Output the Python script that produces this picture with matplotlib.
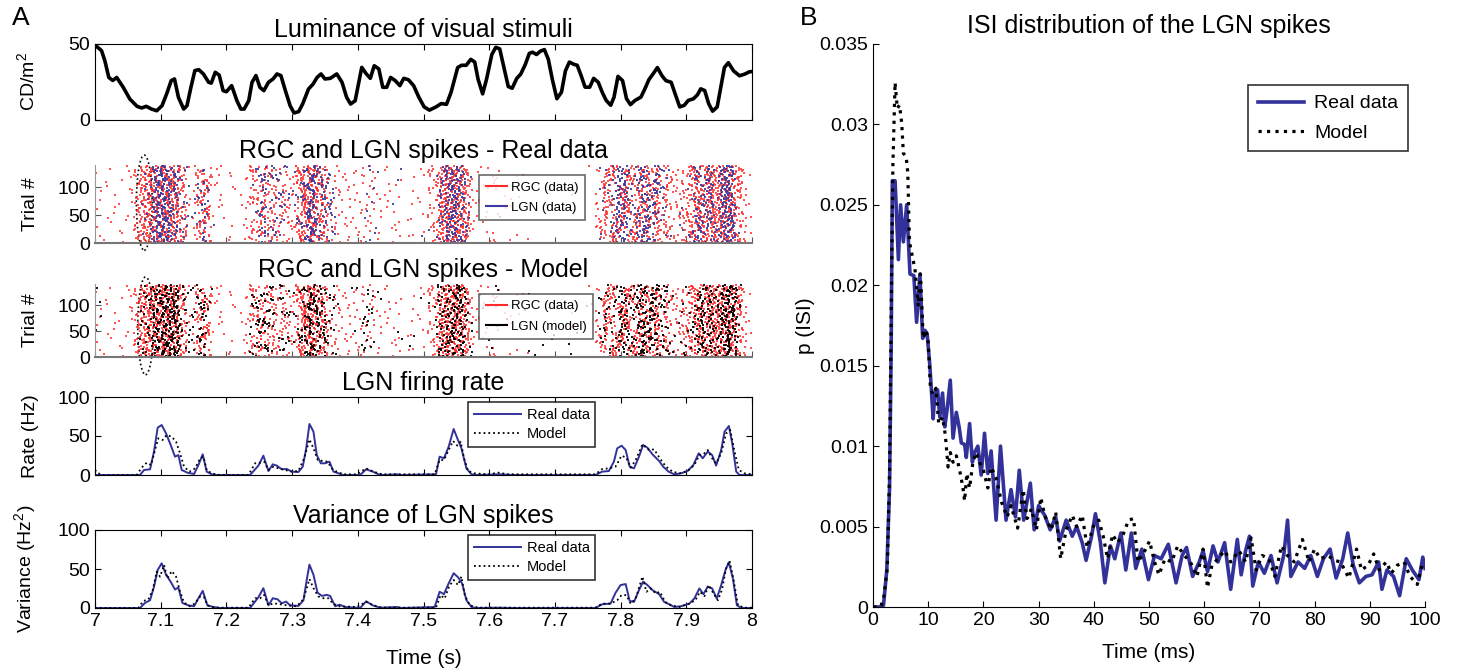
import numpy as np
import matplotlib
matplotlib.use('Agg')
import matplotlib.pyplot as plt
from matplotlib.patches import Ellipse
from matplotlib.lines import Line2D
from matplotlib.ticker import FormatStrFormatter

plt.rcParams['font.family'] = ['Liberation Sans', 'DejaVu Sans']
plt.rcParams['mathtext.fontset'] = 'custom'
plt.rcParams['mathtext.rm'] = 'Liberation Sans'
plt.rcParams['xtick.direction'] = 'in'
plt.rcParams['ytick.direction'] = 'in'

BLUE = '#32329a'
RED = '#ff2a2a'

# luminance of the stimulus, (time s, cd/m2)
lum = [(7.000, 49.3), (7.010, 45.6), (7.015, 39), (7.021, 28), (7.027, 26), (7.033, 28), (7.043, 21.5),
       (7.053, 13.8), (7.064, 9), (7.071, 7.9), (7.078, 9), (7.086, 7.2), (7.094, 6.1), (7.102, 9.4),
       (7.109, 17.1), (7.116, 25.9), (7.121, 27), (7.127, 14.9), (7.135, 7.2), (7.140, 9.4), (7.146, 21.5),
       (7.152, 32.5), (7.158, 33.1), (7.165, 30.3), (7.173, 24.8), (7.177, 24.3), (7.183, 31.4), (7.189, 29.6),
       (7.195, 19.3), (7.200, 18.6), (7.208, 22.6), (7.216, 12.7), (7.222, 7.2), (7.227, 7.2), (7.234, 12.7),
       (7.239, 24.8), (7.245, 29.2), (7.251, 21.5), (7.257, 19.3), (7.264, 24.8), (7.271, 27), (7.277, 30.3),
       (7.283, 29.2), (7.289, 20.4), (7.297, 9.4), (7.303, 4.6), (7.310, 5.5), (7.316, 10.5), (7.325, 20.4),
       (7.332, 23.7), (7.338, 28), (7.344, 30.3), (7.350, 27), (7.358, 27.4), (7.368, 30.3), (7.376, 24.8),
       (7.383, 14.9), (7.389, 10.5), (7.396, 12.7), (7.401, 23.7), (7.406, 34.6), (7.413, 30.3), (7.419, 27.4),
       (7.425, 35.7), (7.432, 33.6), (7.438, 21.5), (7.444, 21.5), (7.450, 28), (7.457, 25.9), (7.464, 22.6),
       (7.470, 27.4), (7.477, 26.5), (7.485, 22.6), (7.493, 14.9), (7.501, 8.6), (7.509, 6.5), (7.519, 8.6),
       (7.527, 10.8), (7.535, 10.3), (7.542, 18.3), (7.552, 34.5), (7.558, 36), (7.565, 36), (7.572, 39.9),
       (7.578, 38.1), (7.583, 26.9), (7.590, 17.2), (7.596, 26.9), (7.604, 43.1), (7.610, 47.8), (7.616, 46.8),
       (7.623, 33.4), (7.629, 22), (7.635, 20.9), (7.642, 27.4), (7.648, 30.2), (7.655, 36.6), (7.661, 43.8),
       (7.666, 44.6), (7.672, 43.1), (7.678, 45.3), (7.684, 46.3), (7.690, 39.9), (7.696, 26.9), (7.703, 14),
       (7.710, 18.3), (7.716, 32.3), (7.722, 38.1), (7.729, 36.6), (7.734, 36), (7.740, 29.1), (7.746, 21.6),
       (7.753, 21.6), (7.759, 27.4), (7.766, 24.8), (7.772, 18.3), (7.778, 12.9), (7.785, 9.7), (7.790, 15.1),
       (7.796, 28.7), (7.803, 25.9), (7.809, 14), (7.815, 10.1), (7.822, 12.9), (7.831, 15.1), (7.837, 20.5),
       (7.843, 26.5), (7.851, 31.3), (7.856, 34.5), (7.863, 29.1), (7.869, 25.9), (7.877, 24.8), (7.883, 17.2),
       (7.890, 8.6), (7.897, 9.7), (7.903, 12.9), (7.911, 14), (7.917, 16.6), (7.922, 20.5), (7.928, 19.4),
       (7.934, 10.8), (7.940, 5.8), (7.947, 8.6), (7.953, 22.6), (7.958, 34.5), (7.964, 37.7), (7.972, 32.3),
       (7.981, 29.1), (7.989, 30.2), (7.996, 31.7), (8.000, 31.9)]

# LGN firing rate (Hz)
rate_real = [(7.0, 0), (7.0685, 0), (7.0746, 6.4), (7.0838, 7.3), (7.0898, 30), (7.0954, 60.7), (7.1015, 64.1),
             (7.1081, 53.4), (7.1152, 38.5), (7.1218, 23.5), (7.1269, 25.6), (7.132, 6.4), (7.1406, 3),
             (7.1508, 1.3), (7.1574, 12.8), (7.164, 26.5), (7.17, 4.3), (7.1777, 0.9), (7.185, 0), (7.236, 0),
             (7.2487, 12), (7.2563, 24.8), (7.264, 5.1), (7.2706, 13.7), (7.2767, 12), (7.2843, 7.3),
             (7.2919, 7.7), (7.2995, 4.3), (7.3096, 3.8), (7.3162, 10.7), (7.3213, 33.3), (7.3264, 65.4),
             (7.3325, 55.6), (7.3376, 25.6), (7.3437, 15), (7.35, 15), (7.3569, 17.1), (7.363, 4.3),
             (7.3706, 2.1), (7.378, 0), (7.4036, 0), (7.4127, 7.3), (7.4228, 4.3), (7.4315, 0.9), (7.439, 0),
             (7.4594, 0.9), (7.467, 0), (7.519, 0.9), (7.5245, 23.5), (7.5311, 21.4), (7.5383, 36.3),
             (7.5459, 59), (7.5515, 47), (7.5577, 34.2), (7.5653, 8.5), (7.573, 0.9), (7.5806, 0),
             (7.6138, 0.9), (7.6393, 0), (7.7617, 0), (7.772, 4.3), (7.7821, 5.1), (7.7898, 17.1),
             (7.7949, 34.2), (7.8015, 37.6), (7.8077, 32), (7.8138, 10.7), (7.8204, 8.5), (7.828, 23.5),
             (7.8342, 38.5), (7.8408, 35), (7.8485, 26.5), (7.8587, 17.9), (7.8648, 10.7), (7.873, 4.3),
             (7.8816, 0.9), (7.8918, 2.1), (7.902, 5.1), (7.9107, 12.8), (7.9189, 27.8), (7.925, 21.4),
             (7.9327, 30), (7.9393, 25.6), (7.9454, 12), (7.9531, 32), (7.9582, 55.6), (7.9648, 62.8),
             (7.9699, 40.6), (7.976, 4.3), (7.9811, 0), (8.0, 0)]
rate_model = [(7.0, 6.4), (7.005, 2.1), (7.0127, 0), (7.0635, 0), (7.071, 9.4), (7.0787, 15.8), (7.0853, 12.8),
              (7.0914, 32), (7.0964, 47), (7.103, 44.9), (7.1091, 51.3), (7.1168, 49.1), (7.1234, 42.7),
              (7.1294, 27.8), (7.1355, 10.7), (7.1437, 4.3), (7.1523, 8.5), (7.16, 21.4), (7.165, 23.5),
              (7.17, 6.4), (7.1777, 2.1), (7.19, 0), (7.2335, 0), (7.2437, 15), (7.2513, 15.8), (7.2574, 17.1),
              (7.264, 6.4), (7.2716, 10.7), (7.2792, 8.5), (7.2893, 6.4), (7.2995, 4.3), (7.3096, 5.1),
              (7.3183, 21.4), (7.3264, 45.7), (7.3325, 34.2), (7.3391, 19.2), (7.3467, 17.9), (7.3538, 17.1),
              (7.3604, 8.5), (7.368, 4.3), (7.378, 0.9), (7.3985, 0.9), (7.4127, 8.5), (7.4239, 4.3),
              (7.4365, 0.9), (7.517, 0.9), (7.5245, 19.2), (7.5311, 19.2), (7.5383, 32), (7.545, 43.6),
              (7.5515, 37.6), (7.5566, 42.7), (7.5617, 21.4), (7.5679, 5.1), (7.578, 2.1), (7.5985, 0.9),
              (7.6138, 3), (7.629, 0.9), (7.7617, 0.9), (7.772, 7.7), (7.7821, 8.5), (7.7923, 10.7),
              (7.8015, 24.8), (7.8087, 22.2), (7.8153, 9.4), (7.823, 19.2), (7.8332, 39.3), (7.8434, 32),
              (7.851, 32.9), (7.8597, 21.4), (7.869, 10.7), (7.8791, 4.3), (7.8893, 2.1), (7.902, 5.1),
              (7.9122, 12.8), (7.92, 25.6), (7.926, 26.5), (7.9327, 32), (7.9393, 21.4), (7.9454, 15),
              (7.9531, 27.8), (7.9607, 53.4), (7.9668, 57.7), (7.9735, 30), (7.98, 6.4), (7.9888, 2.1), (8.0, 0.9)]

# variance of LGN spikes (Hz^2)
var_real = [(7.0, 0), (7.0685, 0), (7.0761, 6.5), (7.0838, 9.9), (7.0898, 27.2), (7.0954, 48.7), (7.1015, 57.3),
            (7.1081, 42.7), (7.1152, 33.6), (7.1218, 23.7), (7.1269, 26.3), (7.133, 6.5), (7.1421, 3.4),
            (7.1508, 2.2), (7.1574, 12.5), (7.164, 22), (7.1711, 3.4), (7.1802, 1.3), (7.1904, 0), (7.236, 0),
            (7.2487, 13.8), (7.2563, 25.4), (7.264, 3.4), (7.2706, 12.5), (7.2777, 11.2), (7.2843, 6),
            (7.2909, 8.2), (7.297, 3.4), (7.3096, 2.6), (7.3173, 9.9), (7.3223, 36.2), (7.3264, 55.6),
            (7.3325, 42.7), (7.3386, 19.8), (7.3452, 15.5), (7.3528, 16.8), (7.3579, 15.5), (7.3655, 2.2),
            (7.3721, 4.3), (7.3807, 1.3), (7.4036, 0), (7.4127, 8.6), (7.4228, 3.4), (7.434, 0.4),
            (7.4594, 1.3), (7.467, 0), (7.517, 1.3), (7.5245, 20.8), (7.5311, 17.7), (7.5383, 31.6),
            (7.5459, 44.6), (7.5526, 39.4), (7.5587, 31.6), (7.5653, 10), (7.573, 1.3), (7.5806, 0),
            (7.6138, 0.4), (7.6393, 0), (7.7617, 0), (7.772, 4.8), (7.7847, 5.6), (7.7923, 19.5), (7.8, 29.4),
            (7.8077, 30.7), (7.8138, 9.1), (7.8204, 7.8), (7.828, 22.9), (7.8342, 33.8), (7.8408, 29.4),
            (7.8485, 22.9), (7.8587, 17.7), (7.8663, 7.8), (7.874, 4.8), (7.8816, 1.3), (7.8918, 2.2),
            (7.9046, 5.6), (7.9122, 12.1), (7.9199, 25.1), (7.926, 17.7), (7.9327, 27.3), (7.9393, 25.1),
            (7.9464, 12.1), (7.9531, 29.4), (7.9597, 48.9), (7.9648, 58.4), (7.9709, 38.1), (7.977, 3.5),
            (7.9837, 0), (8.0, 0)]
var_model = [(7.0, 0), (7.066, 0), (7.0736, 9.1), (7.0812, 10.8), (7.0878, 22.8), (7.0939, 46.6), (7.099, 40.1),
             (7.1051, 55.2), (7.1102, 37.9), (7.1168, 47.4), (7.1234, 40.1), (7.1294, 21.1), (7.1355, 6.9),
             (7.1447, 2.2), (7.1523, 6), (7.16, 14.7), (7.166, 13.8), (7.1711, 3.4), (7.1827, 0.4),
             (7.2335, 0.4), (7.2437, 12.5), (7.2513, 12.5), (7.2574, 16.8), (7.264, 3.4), (7.2716, 6),
             (7.2792, 5.2), (7.2919, 3.4), (7.3071, 2.2), (7.3173, 11.2), (7.3264, 37.1), (7.3325, 25.4),
             (7.3401, 14.7), (7.3477, 12.5), (7.3553, 12.5), (7.3619, 6), (7.3706, 2.2), (7.3985, 1.3),
             (7.4127, 7.8), (7.4239, 3.4), (7.4365, 0.4), (7.519, 0.4), (7.526, 16.5), (7.5321, 12.1),
             (7.5388, 27.3), (7.5459, 35.9), (7.5526, 29.4), (7.5577, 40.3), (7.5628, 16.5), (7.5704, 3.5),
             (7.5832, 0.4), (7.7617, 0.4), (7.772, 5.6), (7.7847, 5.6), (7.7949, 10), (7.8015, 16.5),
             (7.8087, 16.5), (7.8153, 5.6), (7.823, 12.1), (7.8332, 40.3), (7.8393, 20.8), (7.8459, 25.1),
             (7.8536, 18.6), (7.8597, 20.8), (7.8679, 7.8), (7.8765, 3.5), (7.8893, 1.3), (7.9046, 5.6),
             (7.9138, 10), (7.9209, 20.8), (7.9276, 15.2), (7.9342, 29.4), (7.9413, 18.6), (7.948, 10),
             (7.9541, 22.9), (7.9607, 51.1), (7.9658, 60.6), (7.972, 35.9), (7.9786, 3.5), (7.9888, 0.4),
             (8.0, 0.4)]

rgc_rate = [(7.0, 6), (7.05, 4), (7.062, 30), (7.075, 85), (7.1, 95), (7.12, 90), (7.133, 55), (7.142, 8),
            (7.152, 10), (7.16, 60), (7.172, 55), (7.18, 6), (7.225, 3), (7.238, 30), (7.255, 45), (7.272, 30),
            (7.29, 28), (7.303, 20), (7.315, 80), (7.33, 100), (7.348, 60), (7.358, 15), (7.38, 12),
            (7.43, 10), (7.46, 6), (7.5, 3), (7.518, 30), (7.53, 95), (7.55, 105), (7.565, 70), (7.575, 8),
            (7.61, 6), (7.64, 1), (7.76, 2), (7.772, 40), (7.8, 55), (7.83, 55), (7.86, 50), (7.88, 20),
            (7.895, 25), (7.91, 70), (7.94, 85), (7.97, 90), (7.985, 30), (7.992, 4), (8.0, 4)]

# ISI distribution of LGN spikes, (ms, p)
isi_real = [(0.4, 0), (1.4, 0), (1.9, 0.0001), (2.5, 0.0023), (3.0, 0.0074), (3.3, 0.0163), (3.5, 0.0265),
            (4.0, 0.0265), (4.6, 0.0216), (5.0, 0.025), (5.5, 0.0227), (6.1, 0.025), (6.7, 0.0207),
            (7.4, 0.0206), (7.9, 0.0177), (8.5, 0.0207), (9.0, 0.0167), (9.4, 0.0172), (9.8, 0.017),
            (10.3, 0.015), (10.9, 0.0117), (11.2, 0.0133), (11.7, 0.0135), (12.1, 0.0118), (12.6, 0.0133),
            (13.0, 0.0112), (13.4, 0.0122), (14.0, 0.0141), (14.5, 0.0105), (15.1, 0.0121), (15.6, 0.0112),
            (16.0, 0.0102), (16.6, 0.0101), (16.9, 0.0093), (17.5, 0.0114), (18.0, 0.009), (18.4, 0.0096),
            (19.0, 0.01), (19.6, 0.0082), (20.2, 0.0108), (20.8, 0.0083), (21.4, 0.0097), (22.3, 0.0054),
            (23.1, 0.01), (24.1, 0.0054), (25.0, 0.0073), (25.8, 0.0056), (26.5, 0.0085), (27.3, 0.0054),
            (28.5, 0.0077), (29.2, 0.0048), (30.0, 0.0063), (31.1, 0.0057), (32.1, 0.0048), (33.1, 0.0056),
            (33.8, 0.0041), (35.0, 0.0054), (36.1, 0.0044), (36.9, 0.005), (37.9, 0.004), (38.6, 0.0029),
            (39.6, 0.0044), (40.3, 0.0058), (41.2, 0.004), (42.0, 0.0015), (43.0, 0.0038), (43.8, 0.003),
            (44.9, 0.0046), (45.8, 0.0023), (46.8, 0.0046), (47.6, 0.0024), (48.7, 0.0036), (49.9, 0.0017),
            (51.0, 0.0032), (52.2, 0.003), (53.5, 0.0039), (54.9, 0.0015), (56.0, 0.0032), (56.8, 0.0037),
            (57.9, 0.0019), (59.1, 0.0028), (59.8, 0.0035), (60.6, 0.0022), (61.6, 0.0038), (62.5, 0.0028),
            (63.7, 0.004), (64.8, 0.0011), (66.0, 0.0042), (66.7, 0.002), (67.5, 0.0035), (68.2, 0.0044),
            (68.8, 0.0013), (69.8, 0.0028), (70.9, 0.0021), (72.1, 0.0032), (73.2, 0.0015), (74.4, 0.0032),
            (75.1, 0.0054), (75.7, 0.0019), (77.0, 0.0028), (78.2, 0.0024), (79.3, 0.0032), (80.5, 0.0019),
            (81.6, 0.003), (82.8, 0.0036), (83.9, 0.0018), (85.1, 0.003), (86.0, 0.0046), (87.0, 0.0026),
            (88.1, 0.0015), (89.3, 0.0019), (90.4, 0.002), (91.6, 0.0028), (92.2, 0.0011), (93.1, 0.0023),
            (94.3, 0.0019), (95.4, 0.0007), (96.6, 0.003), (97.7, 0.0023), (98.9, 0.0017), (99.6, 0.0031),
            (100.0, 0.0024)]
isi_model = [(0.1, 0), (1.4, 0), (2.0, 0.0007), (2.6, 0.0025), (3.0, 0.0085), (3.3, 0.0185), (3.6, 0.0274),
             (4.0, 0.0326), (4.4, 0.031), (4.8, 0.0312), (5.2, 0.0301), (5.5, 0.0282), (6.0, 0.028),
             (6.3, 0.027), (6.6, 0.0227), (7.6, 0.021), (8.2, 0.0187), (8.6, 0.0207), (9.1, 0.0167),
             (9.6, 0.0172), (10.0, 0.0165), (10.4, 0.0136), (10.9, 0.0132), (11.4, 0.0136), (11.9, 0.0114),
             (12.6, 0.0118), (13.1, 0.0107), (13.6, 0.0087), (14.0, 0.0096), (14.5, 0.009), (15.1, 0.0094),
             (15.7, 0.0085), (16.3, 0.0074), (16.6, 0.0066), (17.0, 0.0083), (17.5, 0.0074), (18.1, 0.009),
             (18.7, 0.0096), (19.3, 0.009), (20.0, 0.0085), (20.8, 0.0074), (21.4, 0.0087), (22.3, 0.008),
             (23.3, 0.0065), (24.3, 0.0056), (25.0, 0.0063), (26.2, 0.0049), (27.2, 0.0073), (27.9, 0.0055),
             (28.7, 0.0061), (29.6, 0.0048), (30.4, 0.0068), (31.1, 0.0057), (32.3, 0.0048), (33.1, 0.0059),
             (34.0, 0.003), (35.0, 0.0048), (36.1, 0.0057), (36.9, 0.005), (37.9, 0.0057), (38.8, 0.0037),
             (39.9, 0.005), (40.9, 0.0054), (41.7, 0.0044), (42.5, 0.003), (43.4, 0.0045), (44.3, 0.004),
             (45.3, 0.0045), (46.3, 0.0054), (47.2, 0.0055), (48.0, 0.0028), (49.1, 0.0034), (50.1, 0.0041),
             (51.0, 0.0028), (51.8, 0.002), (52.9, 0.003), (54.1, 0.0028), (55.2, 0.0038), (56.4, 0.0032),
             (57.5, 0.0028), (58.7, 0.0019), (59.8, 0.0036), (60.6, 0.0012), (61.4, 0.0026), (62.5, 0.003),
             (63.7, 0.0035), (64.8, 0.0028), (66.3, 0.0035), (67.5, 0.0028), (68.5, 0.0043), (69.4, 0.0023),
             (70.5, 0.0032), (71.7, 0.003), (72.8, 0.0019), (74.0, 0.0038), (75.1, 0.0032), (76.3, 0.0028),
             (77.8, 0.0042), (79.0, 0.0028), (80.0, 0.0036), (81.0, 0.003), (82.4, 0.0032), (83.6, 0.0029),
             (84.7, 0.0028), (86.2, 0.0018), (87.6, 0.0036), (88.5, 0.0023), (89.7, 0.0026), (90.7, 0.0033),
             (91.7, 0.0023), (93.0, 0.0028), (93.9, 0.0021), (95.0, 0.0026), (96.2, 0.0028), (97.3, 0.0019),
             (98.6, 0.0014), (99.6, 0.0028)]

n_trials = 138
time_ticks = [7, 7.1, 7.2, 7.3, 7.4, 7.5, 7.6, 7.7, 7.8, 7.9, 8]


def vdc(k, base):
    # van der Corput sequence value, used as a per-trial phase
    f, r = 1.0, 0.0
    while k > 0:
        f /= base
        r += f * (k % base)
        k //= base
    return r


def raster_from_rate(curve, gain, offset, b1, b2):
    # deterministic spike trains: a trial fires each time its integrated rate
    # crosses a trial-specific phase (Halton sequence, no random numbers)
    ct, cr = np.array(curve).T
    t = np.linspace(7.0, 8.0, 4001)
    r = np.interp(t, ct, cr)
    cum = np.concatenate([[0], np.cumsum((r[1:] + r[:-1]) / 2 * np.diff(t))])
    xs, ys = [], []
    for k in range(1, n_trials + 1):
        ph = vdc(k + offset, b1)
        g = gain * (0.5 + vdc(k + offset, b2))
        c = np.floor(cum * g - ph)
        idx = np.nonzero(np.diff(c) > 0)[0] + 1
        xs.extend(t[idx])
        ys.extend([k] * len(idx))
    return xs, ys


fig = plt.figure(figsize=(14.62, 6.68), dpi=100)

W, H = 1462.0, 668.0
def axes_px(x0, y0, x1, y1):
    return fig.add_axes([x0 / W, 1 - y1 / H, (x1 - x0) / W, (y1 - y0) / H])

ax_lum = axes_px(95, 44, 752, 120)
ax_r1 = axes_px(95, 164.6, 752, 243)
ax_r2 = axes_px(95, 284.2, 752, 357)
ax_rate = axes_px(95, 397, 752, 475)
ax_var = axes_px(95, 530, 752, 608)
ax_isi = axes_px(873, 44, 1425, 607)

title_kw = dict(fontsize=18, pad=5)
lab_kw = dict(fontsize=14)

# luminance
lt, lv = np.array(lum).T
ax_lum.plot(lt, lv, color='k', lw=2.6)
ax_lum.set_xlim(7, 8)
ax_lum.set_ylim(0, 50)
ax_lum.set_yticks([0, 50])
ax_lum.set_xticks(time_ticks)
ax_lum.set_xticklabels([])
ax_lum.tick_params(top=True, right=False, labelsize=14, length=4)
ax_lum.set_title('Luminance of visual stimuli', **title_kw)
ax_lum.set_ylabel('CD/m$^2$', **lab_kw)

# rasters
rgc_x, rgc_y = raster_from_rate(rgc_rate, 0.6, 3, 2, 3)
lgn_x, lgn_y = raster_from_rate(rate_real, 0.85, 11, 3, 2)
mod_x, mod_y = raster_from_rate(rate_model, 0.85, 29, 3, 2)

for ax, lx, ly, lcol, lname, title in [
        (ax_r1, lgn_x, lgn_y, '#3a3aa0', 'LGN (data)', 'RGC and LGN spikes - Real data'),
        (ax_r2, mod_x, mod_y, 'k', 'LGN (model)', 'RGC and LGN spikes - Model')]:
    ax.plot(rgc_x, rgc_y, ls='none', marker='s', ms=1.5, mew=0, color=RED, alpha=0.8)
    ax.plot(lx, ly, ls='none', marker='s', ms=1.5, mew=0, color=lcol, alpha=0.9)
    ax.set_xlim(7, 8)
    ax.set_ylim(0, 140)
    ax.set_yticks([0, 50, 100])
    ax.set_xticks(time_ticks)
    ax.set_xticklabels([])
    for s in ['top', 'right']:
        ax.spines[s].set_visible(False)
    ax.spines['bottom'].set_color('#777777')
    ax.spines['bottom'].set_linewidth(1.5)
    ax.spines['left'].set_color('#999999')
    ax.tick_params(labelsize=14, length=4, color='#555555')
    ax.set_title(title, **title_kw)
    ax.set_ylabel('Trial #', **lab_kw)
    handles = [Line2D([], [], color=RED, lw=1.5), Line2D([], [], color=lcol, lw=1.5)]
    leg = ax.legend(handles, ['RGC (data)', lname], loc='upper left', bbox_to_anchor=(0.585, 0.87),
                    fontsize=9.5, frameon=True, fancybox=False, handlelength=1.6, borderpad=0.5,
                    labelspacing=0.6, handletextpad=0.3, borderaxespad=0)
    leg.get_frame().set_edgecolor('#444444')
    leg.get_frame().set_linewidth(1.2)

ax_r1.add_patch(Ellipse((7.075, 72), 0.024, 170, fill=False, ls=':', lw=1.2, color='k', clip_on=False))
ax_r2.add_patch(Ellipse((7.077, 60), 0.024, 188, fill=False, ls=':', lw=1.2, color='k', clip_on=False))

# rate and variance
for ax, real, model, title, ylab in [
        (ax_rate, rate_real, rate_model, 'LGN firing rate', 'Rate (Hz)'),
        (ax_var, var_real, var_model, 'Variance of LGN spikes', 'Variance (Hz$^2$)')]:
    rt, rv = np.array(real).T
    mt, mv = np.array(model).T
    ax.plot(rt, rv, color=BLUE, lw=1.4, label='Real data')
    ax.plot(mt, mv, color='k', lw=1.3, ls=':', label='Model')
    ax.set_xlim(7, 8)
    ax.set_ylim(0, 100)
    ax.set_yticks([0, 50, 100])
    ax.set_xticks(time_ticks)
    ax.tick_params(top=True, right=True, labelsize=14, length=4)
    ax.set_title(title, **title_kw)
    ax.set_ylabel(ylab, **lab_kw)
    leg = ax.legend(loc='upper left', bbox_to_anchor=(0.568, 0.93), fontsize=10.5, frameon=True,
                    fancybox=False, handlelength=3.2, borderpad=0.4, labelspacing=0.3, handletextpad=0.4,
                    borderaxespad=0)
    leg.get_frame().set_edgecolor('k')
    leg.get_frame().set_linewidth(1.2)

ax_rate.set_xticklabels([])
ax_var.xaxis.set_major_formatter(FormatStrFormatter('%g'))
ax_var.set_xlabel('Time (s)', fontsize=15, labelpad=14)

for ax in [ax_lum, ax_r1, ax_r2, ax_rate, ax_var]:
    ax.yaxis.set_label_coords(-0.085, 0.5)

# ISI distribution
it, iv = np.array(isi_real).T
mt, mv = np.array(isi_model).T
ax_isi.plot(it, iv, color=BLUE, lw=2.6, label='Real data')
ax_isi.plot(mt, mv, color='k', lw=2.3, ls=':', label='Model')
ax_isi.set_xlim(0, 100)
ax_isi.set_ylim(0, 0.035)
ax_isi.set_xticks(np.arange(0, 101, 10))
ax_isi.set_yticks(np.arange(0, 0.0351, 0.005))
ax_isi.yaxis.set_major_formatter(FormatStrFormatter('%g'))
for s in ['top', 'right']:
    ax_isi.spines[s].set_visible(False)
ax_isi.tick_params(labelsize=14, length=4)
ax_isi.set_title('ISI distribution of the LGN spikes', fontsize=18, pad=8)
ax_isi.set_xlabel('Time (ms)', fontsize=15, labelpad=10)
ax_isi.set_ylabel('p (ISI)', fontsize=15)
ax_isi.yaxis.set_label_coords(-0.105, 0.5)
leg = ax_isi.legend(loc='upper left', bbox_to_anchor=(0.679, 0.927), fontsize=14, frameon=True,
                    fancybox=False, handlelength=2.4, borderpad=0.5, labelspacing=0.6, handletextpad=0.5,
                    borderaxespad=0)
leg.get_frame().set_edgecolor('k')
leg.get_frame().set_linewidth(1.2)

fig.text(12 / W, 1 - 18 / H, 'A', fontsize=19, va='center')
fig.text(800 / W, 1 - 18 / H, 'B', fontsize=19, va='center')

fig.savefig('out.png', dpi=100)
